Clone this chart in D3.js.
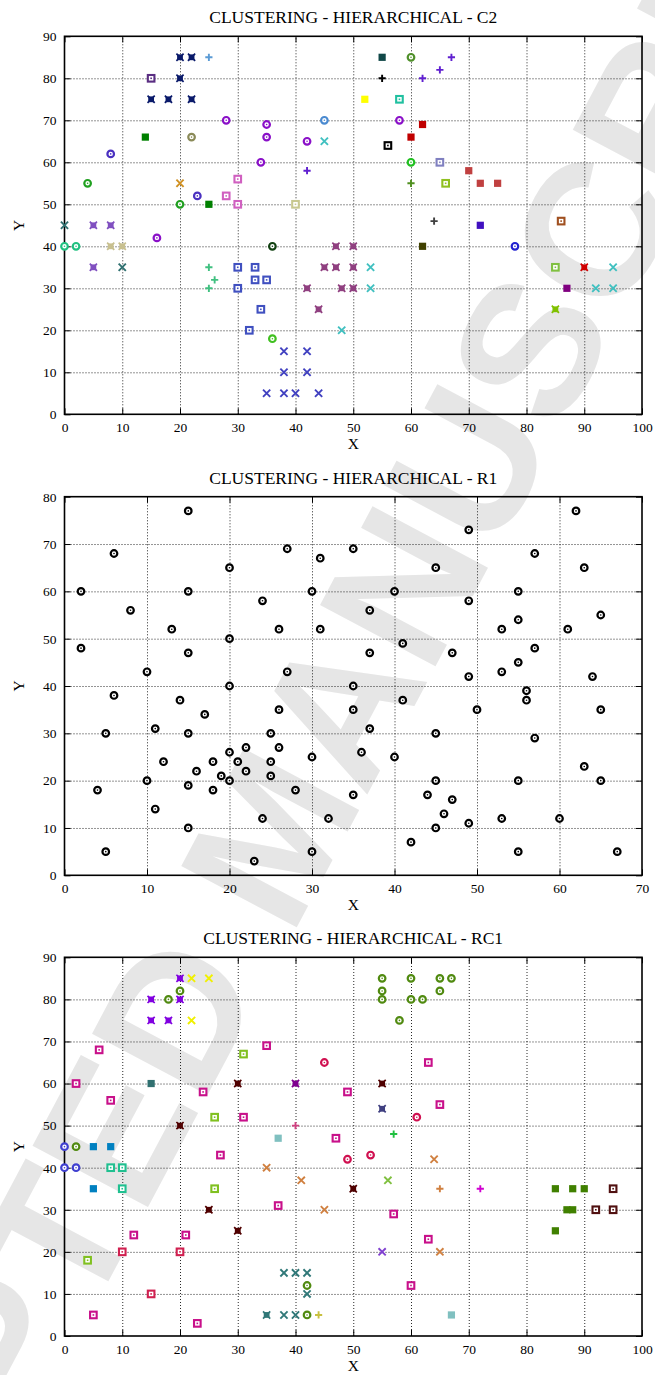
<!DOCTYPE html>
<html>
<head>
<meta charset="utf-8">
<script src="https://cdn.jsdelivr.net/npm/d3@7/dist/d3.min.js"></script>
<style>
  html, body { margin: 0; padding: 0; background: #fff; }
  svg { display: block; }
  text { font-family: "Liberation Serif", "DejaVu Serif", serif; }
</style>
</head>
<body>
<svg id="chart" width="655" height="1375"></svg>
<script>
// ---------- C2 clusters: points [x, y] ----------
const c2Points = [
  [[20,85],[22,85],[20,80],[15,75],[18,75],[22,75]],
  [[25,85]],
  [[15,80]],
  [[28,70],[35,69],[35,66],[42,65],[34,60],[58,70],[16,42]],
  [[45,70]],
  [[14,66],[25,50]],
  [[22,66]],
  [[45,65],[53,35],[53,30],[48,20],[95,35],[92,30],[95,30]],
  [[8,62],[23,52]],
  [[42,58],[67,85],[65,82],[62,80]],
  [[4,55],[20,50]],
  [[20,55]],
  [[30,56],[28,52],[30,50]],
  [[40,50]],
  [[0,45],[10,35]],
  [[5,45],[8,45],[5,35]],
  [[55,85]],
  [[60,85]],
  [[55,80]],
  [[52,75]],
  [[58,75]],
  [[62,69],[60,66]],
  [[56,64]],
  [[60,60]],
  [[65,60]],
  [[70,58],[72,55],[75,55]],
  [[60,55]],
  [[66,55]],
  [[64,46]],
  [[72,45]],
  [[86,46]],
  [[0,40],[2,40]],
  [[8,40],[10,40]],
  [[36,40]],
  [[47,40],[50,40],[45,35],[47,35],[50,35],[42,30],[48,30],[50,30],[44,25]],
  [[25,35],[26,32],[25,30]],
  [[30,35],[33,35],[33,32],[35,32],[30,30],[34,25],[32,20]],
  [[36,18]],
  [[38,15],[42,15],[38,10],[42,10],[35,5],[38,5],[40,5],[44,5]],
  [[62,40]],
  [[78,40]],
  [[85,35]],
  [[90,35]],
  [[87,30]],
  [[85,25]]
];
const c2Colors = [
  "#0a1a6a","#5b9bd5","#5a2d82","#8a10c8","#4a8ad0","#008000","#8a8a58","#40c0c0",
  "#4a30c0","#6020d0","#20a020","#d09020","#d060c0","#c8c890","#307070","#8050c0",
  "#104848","#50902a","#000000","#ffff00","#20c0a0","#c00000","#000000","#20c020",
  "#8080c0","#c04040","#509020","#90c020","#404040","#4010c0","#a05020","#20c080",
  "#c8c090","#104010","#904080","#40c080","#4050c0","#40c020","#4040c0","#404000",
  "#2020d0","#80c040","#d00000","#800080","#80c000"
];
const c2Shapes = [
  "xsq","plus","osq","ocirc","ocirc","sq","ocirc","x",
  "ocirc","plus","ocirc","x","osq","osq","x","xsq",
  "sq","ocirc","plus","sq","osq","sq","osq","ocirc",
  "osq","sq","plus","osq","plus","sq","osq","ocirc",
  "xsq","ocirc","xsq","plus","osq","ocirc","x","sq",
  "ocirc","osq","xsq","sq","xsq"
];

// ---------- R1: a single cluster ----------
const r1Points = [[
  [15,77],[6,68],[27,69],[31,67],[35,69],[20,65],[2,60],[15,60],[30,60],[24,58],
  [8,56],[13,52],[26,52],[31,52],[20,50],[2,48],[15,47],[10,43],[27,43],[20,40],
  [35,40],[62,77],[49,73],[57,68],[45,65],[63,65],[40,60],[55,60],[37,56],[49,58],
  [65,55],[55,54],[53,52],[61,52],[41,49],[57,48],[37,47],[47,47],[55,45],[53,43],
  [49,42],[64,42],[56,39],[6,38],[14,37],[26,35],[35,35],[17,34],[5,30],[11,31],
  [15,30],[25,30],[20,26],[22,27],[26,27],[30,25],[36,26],[12,24],[18,24],[21,24],
  [25,24],[16,22],[22,22],[19,21],[25,21],[10,20],[20,20],[4,18],[15,19],[18,18],
  [28,18],[35,17],[11,14],[24,12],[32,12],[15,10],[5,5],[30,5],[23,3],[41,37],
  [56,37],[50,35],[65,35],[37,31],[45,30],[57,29],[40,25],[63,23],[45,20],[55,20],
  [65,20],[44,17],[47,16],[46,13],[53,12],[60,12],[49,11],[45,10],[42,7],[55,5],
  [67,5]
]];
const r1Colors = ["#000000"];
const r1Shapes = ["ocirc"];

// ---------- RC1 clusters ----------
const rc1Points = [
  [[20,85],[15,80],[20,80],[15,75],[18,75]],
  [[22,85],[25,85],[22,75]],
  [[20,82],[18,80],[55,85],[60,85],[65,85],[67,85],[55,82],[65,82],[55,80],[60,80],[62,80],[58,75],[42,12],[42,5],[2,45]],
  [[6,68],[35,69],[2,60],[8,56],[24,58],[49,58],[31,52],[47,47],[27,43],[37,31],[12,24],[21,24],[5,5],[23,3],[63,65],[65,55],[57,29],[63,23],[60,12]],
  [[10,20],[20,20],[15,10]],
  [[31,67],[26,52],[26,35],[4,18]],
  [[45,65],[49,42],[53,43],[61,52]],
  [[15,60]],
  [[30,60],[20,50],[55,60],[50,35],[25,30],[30,25]],
  [[40,60]],
  [[40,50]],
  [[37,47],[67,5]],
  [[55,54]],
  [[57,48]],
  [[0,45],[0,40],[2,40]],
  [[5,45],[8,45],[5,35]],
  [[8,40],[10,40],[10,35]],
  [[35,40],[41,37],[45,30],[64,42],[65,20]],
  [[38,15],[40,15],[42,15],[42,10],[38,5],[40,5]],
  [[35,5]],
  [[44,5]],
  [[56,37]],
  [[65,35]],
  [[72,35]],
  [[85,35],[88,35],[90,35],[87,30],[88,30],[85,25]],
  [[95,35],[92,30],[95,30]],
  [[55,20]]
];
const rc1Colors = [
  "#8000e0","#f0f000","#508a10","#c8108a","#d02050","#80c020","#d01050","#307070",
  "#500000","#800090","#d04080","#80c0c0","#404080","#20c040","#4040d0","#0080c0",
  "#20c090","#d08040","#307878","#307878","#c8c040","#80c040","#d08040","#d000d0",
  "#408000","#501010","#8040d0"
];
const rc1Shapes = [
  "xsq","x","ocirc","osq","osq","osq","ocirc","sq",
  "xsq","xsq","plus","sq","xsq","plus","ocirc","sq",
  "osq","x","x","xsq","plus","x","plus","plus",
  "sq","osq","x"
];

// ---------- axis settings ----------
const xTicksA = d3.range(0, 101, 10);
const yTicksA = d3.range(0, 91, 10);
const xTicksB = d3.range(0, 71, 10);
const yTicksB = d3.range(0, 81, 10);

const titles = [
  "CLUSTERING - HIERARCHICAL - C2",
  "CLUSTERING - HIERARCHICAL - R1",
  "CLUSTERING - HIERARCHICAL - RC1"
];

const svg = d3.select("#chart");

// faint diagonal stamp behind the plots
svg.append("text")
  .attr("transform", "translate(272,833) rotate(-62)")
  .attr("text-anchor", "middle")
  .attr("dominant-baseline", "central")
  .style("font-family", "'Liberation Sans', Arial, sans-serif")
  .style("font-weight", "bold")
  .style("font-size", "190px")
  .style("fill", "#e6e6e6")
  .text("ACCEPTED MANUSCRIPT");

function marker(g, shape, color) {
  const s = 3.6;
  if (shape === "sq") {
    g.append("rect").attr("x", -3.6).attr("y", -3.6).attr("width", 7.2).attr("height", 7.2).attr("fill", color);
  } else if (shape === "osq") {
    g.append("rect").attr("x", -3.3).attr("y", -3.3).attr("width", 6.6).attr("height", 6.6)
      .attr("fill", "#fff").attr("stroke", color).attr("stroke-width", 2.1);
    g.append("rect").attr("x", -0.8).attr("y", -0.8).attr("width", 1.6).attr("height", 1.6).attr("fill", color);
  } else if (shape === "ocirc") {
    g.append("circle").attr("r", 3.3).attr("fill", "#fff").attr("stroke", color).attr("stroke-width", 2.2);
    g.append("circle").attr("r", 0.8).attr("fill", color);
  } else if (shape === "x") {
    g.append("path").attr("d", `M${-s},${-s}L${s},${s}M${-s},${s}L${s},${-s}`)
      .attr("stroke", color).attr("stroke-width", 1.9).attr("fill", "none");
  } else if (shape === "plus") {
    g.append("path").attr("d", `M${-s},0L${s},0M0,${-s}L0,${s}`)
      .attr("stroke", color).attr("stroke-width", 1.9).attr("fill", "none");
  } else if (shape === "xsq") {
    g.append("rect").attr("x", -2.9).attr("y", -2.9).attr("width", 5.8).attr("height", 5.8).attr("fill", color);
    g.append("path").attr("d", `M${-s},${-s}L${s},${s}M${-s},${s}L${s},${-s}`)
      .attr("stroke", color).attr("stroke-width", 1.7).attr("fill", "none");
  }
}

function panel(cfg) {
  const L = 64.5, R = 642;
  const x = d3.scaleLinear().domain([0, cfg.xMax]).range([L, R]);
  const y = d3.scaleLinear().domain([0, cfg.yMax]).range([cfg.bottom, cfg.top]);
  const g = svg.append("g");
  const H = cfg.bottom - cfg.top;

  // dotted grid
  const gx = g.append("g").attr("transform", `translate(0,${cfg.bottom})`)
    .call(d3.axisBottom(x).tickValues(cfg.xTicks.filter(v => v > 0 && v < cfg.xMax)).tickSize(-H).tickFormat(""));
  const gy = g.append("g").attr("transform", `translate(${L},0)`)
    .call(d3.axisLeft(y).tickValues(cfg.yTicks.filter(v => v > 0 && v < cfg.yMax)).tickSize(-(R - L)).tickFormat(""));
  [gx, gy].forEach(a => {
    a.select(".domain").remove();
    a.selectAll("line").attr("stroke", "#111").attr("stroke-width", 0.9).attr("stroke-dasharray", "1,2");
  });

  // inward ticks on all four sides, labels on bottom and left
  const tick = 6;
  const ax = [
    g.append("g").attr("transform", `translate(0,${cfg.bottom})`)
      .call(d3.axisBottom(x).tickValues(cfg.xTicks).tickSize(-tick).tickPadding(8).tickFormat(d3.format("d"))),
    g.append("g").attr("transform", `translate(0,${cfg.top})`)
      .call(d3.axisTop(x).tickValues(cfg.xTicks).tickSize(-tick).tickFormat("")),
    g.append("g").attr("transform", `translate(${L},0)`)
      .call(d3.axisLeft(y).tickValues(cfg.yTicks).tickSize(-tick).tickPadding(8).tickFormat(d3.format("d"))),
    g.append("g").attr("transform", `translate(${R},0)`)
      .call(d3.axisRight(y).tickValues(cfg.yTicks).tickSize(-tick).tickFormat(""))
  ];
  ax.forEach(a => {
    a.select(".domain").remove();
    a.selectAll("line").attr("stroke", "#000").attr("stroke-width", 1);
    a.selectAll("text").attr("fill", "#000")
      .style("font-family", "'Liberation Serif', serif").style("font-size", "13.5px");
  });

  // frame
  g.append("rect").attr("x", L).attr("y", cfg.top).attr("width", R - L).attr("height", H)
    .attr("fill", "none").attr("stroke", "#000").attr("stroke-width", 1.6);

  // markers
  cfg.points.forEach((cluster, i) => {
    const sel = g.append("g");
    cluster.forEach(p => {
      const m = sel.append("g").attr("transform", `translate(${x(p[0])},${y(p[1])})`);
      marker(m, cfg.shapes[i], cfg.colors[i]);
    });
  });

  // titles
  g.append("text").attr("x", (L + R) / 2).attr("y", cfg.top - 13)
    .attr("text-anchor", "middle").style("font-size", "17.5px").text(cfg.title);
  g.append("text").attr("x", (L + R) / 2).attr("y", cfg.bottom + 35)
    .attr("text-anchor", "middle").style("font-size", "15.5px").text("X");
  g.append("text").attr("transform", `translate(24,${(cfg.top + cfg.bottom) / 2}) rotate(-90)`)
    .attr("text-anchor", "middle").style("font-size", "15.5px").text("Y");
}

panel({ top: 36.3, bottom: 414.3, xMax: 100, yMax: 90, xTicks: xTicksA, yTicks: yTicksA,
        points: c2Points, colors: c2Colors, shapes: c2Shapes, title: titles[0] });
panel({ top: 496.7, bottom: 875.3, xMax: 70, yMax: 80, xTicks: xTicksB, yTicks: yTicksB,
        points: r1Points, colors: r1Colors, shapes: r1Shapes, title: titles[1] });
panel({ top: 957.3, bottom: 1336, xMax: 100, yMax: 90, xTicks: xTicksA, yTicks: yTicksA,
        points: rc1Points, colors: rc1Colors, shapes: rc1Shapes, title: titles[2] });
</script>
</body>
</html>
